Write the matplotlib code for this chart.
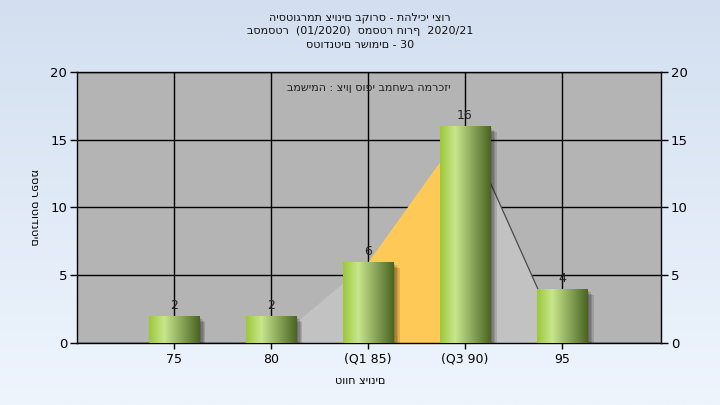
import numpy as np
import matplotlib
matplotlib.use("Agg")
import matplotlib.pyplot as plt
import matplotlib.patheffects as pe
from matplotlib.colors import LinearSegmentedColormap

plt.rcParams['font.family'] = ['DejaVu Sans']
HEB = ['DejaVu Sans']

categories = ["75", "80", "(Q1 85)", "(Q3 90)", "95"]
counts = [2, 2, 6, 16, 4]
curve = [0, 0, 6, 16, 0]
title_lines = ["היסטוגרמת ציונים בקורס - תהליכי יצור",
               "בסמסטר  (01/2020)  סמסטר חורף  2020/21",
               "סטודנטים רשומים - 30"]
note = "במשימה : ציון סופי במחשב המרכזי"
xlabel = "טווח ציונים"
ylabel = "מספר סטודנטים"
yticks = [0, 5, 10, 15, 20]

W, H = 720, 405
fig = plt.figure(figsize=(W/100, H/100), dpi=100)

# background gradient
bg = fig.add_axes([0, 0, 1, 1], zorder=-10)
grad = np.linspace(0, 1, 256).reshape(-1, 1)
bgcmap = LinearSegmentedColormap.from_list("bg", ["#d3dff0", "#eef5fd"])
bg.imshow(grad, aspect='auto', cmap=bgcmap, extent=[0, 1, 0, 1], origin='upper')
bg.axis('off')

left, right, top, bottom = 77, 661, 72, 343
ax = fig.add_axes([left/W, 1-bottom/H, (right-left)/W, (bottom-top)/H])
ax.set_facecolor("#b4b4b4")
x = np.arange(len(categories))

# density area
xs = np.array(x, dtype=float)
cv = np.array(curve, dtype=float)
ax.fill_between(xs, 0, cv, where=(xs <= 2), color="#c2c2c2", lw=0, zorder=1, interpolate=True)
ax.fill_between(xs, 0, cv, where=(xs >= 3), color="#c2c2c2", lw=0, zorder=1, interpolate=True)
ax.fill_between(xs, 0, cv, where=(xs >= 2) & (xs <= 3), color="#ffc957", lw=0, zorder=1)
ax.plot(xs[3:], cv[3:], color="#4a4a4a", lw=0.9, zorder=1.5)

# grid
ax.set_yticks(yticks)
ax.set_xticks(x)
ax.set_xticklabels(categories)
ax.grid(True, color="black", lw=1, zorder=0.5)
ax.set_axisbelow(True)

# bars with soft shadow
shadows = [pe.SimplePatchShadow(offset=(o, -o), shadow_rgbFace="black", alpha=0.13)
           for o in (1.5, 2.5, 3.5, 4.5)]
bars = ax.bar(x, counts, width=0.52, color="#8fb850", zorder=3, lw=0,
              path_effects=shadows + [pe.Normal()])
barcmap = LinearSegmentedColormap.from_list("bar", [(0, "#9cc83a"), (0.3, "#c8e68c"),
                                                    (0.65, "#88a458"), (1, "#4a6420")])
hgrad = np.linspace(0, 1, 256).reshape(1, -1)
for b in bars:
    x0, y0 = b.get_x(), b.get_y()
    im = ax.imshow(hgrad, cmap=barcmap, aspect='auto', zorder=4,
                   extent=[x0, x0 + b.get_width(), y0, y0 + b.get_height()])
    im.set_clip_path(b)
    ax.text(x0 + b.get_width()/2, b.get_height() + 0.3, str(int(b.get_height())),
            ha='center', va='bottom', fontsize=9, color="#222222", zorder=5)
ax.set_xlim(-1, 5.02)
ax.set_ylim(0, 20)

for s in ax.spines.values():
    s.set_color("black")
    s.set_linewidth(1)
ax.tick_params(axis='y', which='both', left=True, right=True, labelleft=True, labelright=True,
               length=5, width=1, labelsize=9.5, colors="black", pad=2)
ax.tick_params(axis='x', length=4, width=1, labelsize=9, pad=3)

ax.text(0.5, 0.94, note, transform=ax.transAxes, ha='center', va='center', fontsize=8,
        color="#202020", family=HEB)

for i, t in enumerate(title_lines):
    fig.text(0.5, 1 - (18 + 13.5*i)/H, t, ha='center', va='center', fontsize=8,
             color="#111111", family=HEB)

fig.text(0.5, 1 - 381/H, xlabel, ha='center', va='center', fontsize=8, family=HEB)
fig.text(34/W, 1 - 207/H, ylabel, ha='center', va='center', fontsize=8, rotation=270, family=HEB)

fig.savefig("out.png", dpi=100)
